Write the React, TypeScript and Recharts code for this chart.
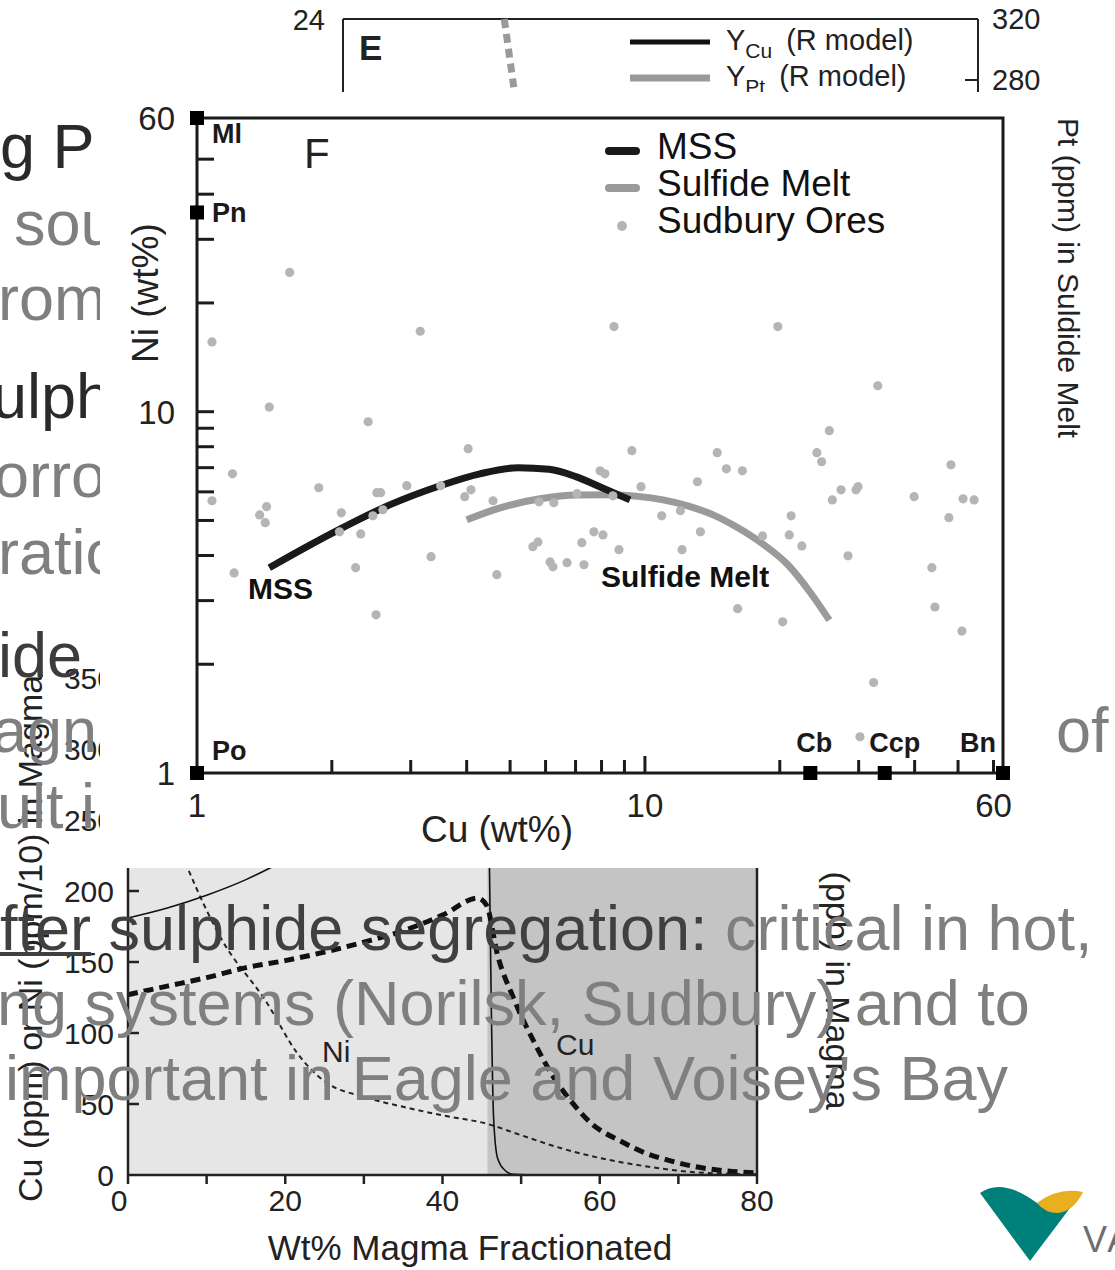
import React from 'react'
import {
  ScatterChart, Scatter, ComposedChart, LineChart, Line, XAxis, YAxis,
  ReferenceArea, ReferenceLine, Legend,
} from 'recharts'

const FONT = '"Liberation Sans", Arial, Helvetica, sans-serif'
const INK = '#1b1b1b'
const SLIDE_GRAY = '#7f7f7f'
const SLIDE_DARK = '#2a2a2a'

// ---------- panel F : Cu vs Ni (wt%), log-log ----------
const oreCu = [1.61, 3.15, 1.08, 1.45, 2.41, 4.03, 1.20, 1.87, 2.52, 2.57, 2.94, 3.50, 4.09, 3.96, 4.58, 5.80, 6.26, 7.05, 7.94, 8.14,
  1.08, 1.43, 1.38, 1.42, 2.10, 2.08, 2.32, 2.47, 2.60, 7.69, 8.06, 7.23, 5.62, 5.77, 6.14, 6.23, 6.70, 7.31, 4.67, 3.33,
  2.26, 1.21, 2.51, 8.53, 19.8, 33.1, 25.8, 9.35, 14.5, 15.2, 16.5, 24.2, 24.8, 48.2, 9.80, 13.1, 27.4, 26.2, 29.6, 29.9,
  39.9, 51.3, 54.3, 47.7, 8.48, 10.9, 12.0, 13.3, 21.2, 18.3, 21.0, 22.4, 28.4, 8.75, 12.1, 43.7, 44.4, 51.0, 16.1, 20.3,
  32.4, 30.2]
const oreNi = [24.3, 16.7, 15.6, 10.3, 9.38, 7.90, 6.73, 6.16, 5.97, 5.97, 6.24, 6.24, 6.08, 5.82, 5.67, 5.63, 5.60, 5.93, 6.86, 6.73,
  5.67, 5.46, 5.18, 4.93, 5.25, 4.65, 4.59, 5.15, 5.35, 4.65, 4.56, 4.34, 4.23, 4.36, 3.84, 3.72, 3.82, 3.77, 3.54, 3.97,
  3.70, 3.58, 2.74, 17.2, 17.2, 11.8, 8.86, 7.80, 7.70, 6.95, 6.86, 7.70, 7.27, 7.13, 6.20, 6.40, 6.08, 5.70, 6.08, 6.20,
  5.82, 5.74, 5.70, 5.09, 5.85, 5.15, 5.32, 4.65, 5.15, 4.53, 4.56, 4.25, 3.99, 4.15, 4.15, 3.70, 2.88, 2.47, 2.85, 2.62,
  1.78, 1.26]

const mssCu = [1.45, 1.74, 2.09, 2.70, 3.49, 4.28, 5.21, 6.11, 7.01, 8.02, 9.26]
const mssNi = [3.70, 4.20, 4.74, 5.53, 6.24, 6.73, 7.00, 6.93, 6.61, 6.16, 5.70]

const meltCu = [4.0, 4.75, 5.83, 7.05, 8.48, 9.65, 10.97, 12.47, 14.2, 16.13, 18.3, 20.85, 23.35, 25.8]
const meltNi = [5.02, 5.42, 5.74, 5.88, 5.89, 5.83, 5.70, 5.49, 5.18, 4.77, 4.31, 3.77, 3.17, 2.65]

const minerals = ['Ml', 'Pn', 'Po', 'Cb', 'Ccp', 'Bn']
const mineralCu = [1, 1, 1, 23.4, 34.3, 63]
const mineralNi = [65, 35.6, 1, 1, 1, 1]

const fTicksX = [1, 2, 3, 4, 5, 6, 7, 8, 9, 10, 20, 30, 40, 50, 60]
const fTicksY = [1, 2, 3, 4, 5, 6, 7, 8, 9, 10, 20, 30, 40, 50, 60]
const fLabelsX = ['1', '10', '60']
const fLabelsY = ['1', '10', '60']
const fLegendNames = ['MSS', 'Sulfide Melt', 'Sudbury Ores']

// ---------- panel E (top, mostly hidden) ----------
const eDashX = [25.4, 27.0, 28.6]
const eDashY = [320, 272, 224]
const eLegend = [['Y', 'Cu', '(R model)'], ['Y', 'Pt', '(R model)']]

// ---------- fractionation panel (bottom) ----------
const fracTicksX = [0, 10, 20, 30, 40, 50, 60, 70, 80]
const fracLabelsX = ['0', '20', '40', '60', '80']
const fracTicksL = [0, 50, 100, 150, 200, 250, 300, 350]
const fracTicksR = [0, 10, 20, 30, 40]
const sulfideSatAt = 45.7

const ptX = [0, 5, 10, 15, 18, 22, 26, 30, 35, 40, 44, 45.7, 45.9, 46.2, 46.5, 47, 48, 49, 52, 80]
const ptY = [181, 188, 197, 208, 216, 228, 241, 256, 276, 298, 315, 322, 250, 120, 40, 12, 3, 0.5, 0, 0]

const cuX = [0, 5, 10, 15, 20, 25, 30, 35, 40, 44.5, 45.6, 47, 49, 51.8, 54, 56.2, 59, 62.6, 66, 69, 72, 75, 80]
const cuY = [127, 133, 139, 146, 151, 157, 164, 172, 183, 195, 190, 155, 125, 92, 70, 53, 36, 24, 15, 10, 6, 3.5, 1.5]

const niX = [0, 3, 5.5, 7.6, 11.7, 17.7, 21.5, 25, 30, 35, 40, 45.7, 50, 55, 60, 66, 72, 80]
const niY = [320, 280, 245, 216, 168, 121, 86, 66, 55, 48, 42, 36, 28, 19, 12, 6, 2, 0.5]

// ---------- slide text fragments ----------
const slideLines: [string, number, number, string][] = [
  ['g P', 0, 168, SLIDE_DARK],
  ['sou', 14, 245, SLIDE_GRAY],
  ['rom', -2, 320, SLIDE_GRAY],
  ['ulphi', -8, 418, SLIDE_DARK],
  ['orro', -6, 497, SLIDE_GRAY],
  ['ratio', -2, 574, SLIDE_GRAY],
  ['ide', -2, 677, '#3c3c3c'],
  ['agn', -8, 752, SLIDE_GRAY],
  ['ult i', -3, 828, SLIDE_GRAY],
  ['of', 1056, 752, SLIDE_GRAY],
  ['ng systems (Norilsk, Sudbury) and to', -3, 1025, SLIDE_GRAY],
  ['important in Eagle and Voisey\'s Bay', 5, 1100, SLIDE_GRAY],
]

const pairs = (xs: number[], ys: number[]) => xs.map((x, i) => ({ x, y: ys[i] }))

const mineralLabel: Record<string, { dx: number; dy: number; anchor: string }> = {
  Ml: { dx: 15, dy: 15, anchor: 'start' },
  Pn: { dx: 15, dy: 0, anchor: 'start' },
  Po: { dx: 15, dy: -23, anchor: 'start' },
  Cb: { dx: 4, dy: -31, anchor: 'middle' },
  Ccp: { dx: 10, dy: -31, anchor: 'middle' },
  Bn: { dx: -25, dy: -31, anchor: 'middle' },
}

const NoDot = () => <g />

const OreDot = ({ cx, cy }: any) => <circle cx={cx} cy={cy} r={4.6} fill="#b5b5b5" />

const MineralMark = ({ cx, cy, payload }: any) => {
  const l = mineralLabel[payload.name]
  return (
    <g>
      <rect x={cx - 7} y={cy - 7} width={14} height={14} fill="#000" />
      <text x={cx + l.dx} y={cy + l.dy + 10} textAnchor={l.anchor as any} fontSize={27} fontWeight="bold"
        fill="#1a1a1a" fontFamily={FONT}>{payload.name}</text>
    </g>
  )
}

const FTickX = ({ x, y, payload }: any) => {
  const v = payload.value
  const lab = fLabelsX.includes(String(v)) ? String(v) : null
  return (
    <g>
      {v > 1 && <line x1={x} x2={x} y1={y} y2={y - (v === 10 ? 17 : 13)} stroke={INK} strokeWidth={3} />}
      {lab && <text x={x} y={y + 44} textAnchor="middle" fontSize={33} fill="#222" fontFamily={FONT}>{lab}</text>}
    </g>
  )
}

const FTickY = ({ x, y, payload }: any) => {
  const v = payload.value
  const lab = fLabelsY.includes(String(v)) ? String(v) : null
  // the top label sits on the frame corner in the original figure
  const ly = v === 60 ? y - 13 : y
  return (
    <g>
      {v > 1 && v < 60 && <line x1={x} x2={x + 17} y1={y} y2={y} stroke={INK} strokeWidth={3} />}
      {lab && <text x={x - 22} y={ly + 12} textAnchor="end" fontSize={33} fill="#222" fontFamily={FONT}>{lab}</text>}
    </g>
  )
}

const FLegend = () => (
  <div style={{ fontFamily: FONT, fontSize: 37, color: '#111', lineHeight: '37px' }}>
    {fLegendNames.map((name, i) => (
      <div key={name} style={{ display: 'flex', alignItems: 'center', height: 37, whiteSpace: 'nowrap' }}>
        <svg width={52} height={37} style={{ flex: 'none' }}>
          {i === 0 && <rect x={0} y={19} width={35} height={8} rx={4} fill="#1a1a1a" />}
          {i === 1 && <rect x={0} y={19} width={35} height={8} rx={4} fill="#9a9a9a" />}
          {i === 2 && <circle cx={17} cy={24} r={5} fill="#b5b5b5" />}
        </svg>
        <span>{name}</span>
      </div>
    ))}
  </div>
)

function PanelF() {
  const ores = pairs(oreCu, oreNi)
  const mss = pairs(mssCu, mssNi)
  const melt = pairs(meltCu, meltNi)
  const marks = minerals.map((name, i) => ({ name, x: mineralCu[i], y: mineralNi[i] }))
  return (
    <div style={{ position: 'absolute', left: 100, top: 92, width: 945, height: 776, background: '#fff' }}>
      <ScatterChart width={945} height={776} margin={{ top: 26, right: 42, bottom: 0, left: 0 }}>
        <XAxis type="number" dataKey="x" scale="log" domain={[1, 63]} ticks={fTicksX} interval={0}
          height={95} axisLine={false} tickLine={false} tickSize={0} tickMargin={0} tick={<FTickX />} />
        <YAxis type="number" dataKey="y" scale="log" domain={[1, 65]} ticks={fTicksY} interval={0}
          width={97} axisLine={false} tickLine={false} tickSize={0} tickMargin={0} tick={<FTickY />} />
        <ReferenceArea x1={1} x2={63} y1={1} y2={65} fill="none" stroke={INK} strokeWidth={3} />
        <Scatter name="Sulfide Melt" data={melt} shape={NoDot} line={{ stroke: '#9a9a9a', strokeWidth: 7 }}
          lineJointType="monotoneX" isAnimationActive={false} />
        <Scatter name="MSS" data={mss} shape={NoDot} line={{ stroke: '#1a1a1a', strokeWidth: 7 }}
          lineJointType="monotoneX" isAnimationActive={false} />
        <Scatter name="Sudbury Ores" data={ores} shape={OreDot} isAnimationActive={false} />
        <Scatter name="minerals" data={marks} shape={MineralMark} isAnimationActive={false} />
        <Legend layout="vertical" align="center" verticalAlign="middle" content={<FLegend />}
          wrapperStyle={{ top: 36, left: 505, width: 330 }} />
      </ScatterChart>
      <div style={{ position: 'absolute', left: 204, top: 38, fontSize: 42, color: '#222', fontFamily: FONT }}>F</div>
      <div style={{ position: 'absolute', left: 148, top: 480, fontSize: 30, fontWeight: 'bold', color: '#111', fontFamily: FONT }}>MSS</div>
      <div style={{ position: 'absolute', left: 501, top: 468, fontSize: 30, fontWeight: 'bold', color: '#111', whiteSpace: 'nowrap', fontFamily: FONT }}>Sulfide Melt</div>
      <div style={{ position: 'absolute', left: 297, top: 717, width: 200, textAlign: 'center', fontSize: 37, lineHeight: '42px', color: '#222', fontFamily: FONT }}>Cu (wt%)</div>
      <div style={{
        position: 'absolute', left: 27, top: 131, height: 140, width: 37, lineHeight: '37px', fontSize: 37, color: '#222',
        writingMode: 'vertical-rl', transform: 'rotate(180deg)', whiteSpace: 'nowrap', fontFamily: FONT,
      }}>Ni (wt%)</div>
    </div>
  )
}

const ETickL = ({ x, y, payload }: any) => (
  <text x={x - 18} y={y + 11} textAnchor="end" fontSize={29} fill="#222" fontFamily={FONT}>{payload.value}</text>
)

const ETickR = ({ x, y, payload }: any) => (
  <g>
    {payload.value !== 320 && <line x1={x - 13} x2={x} y1={y} y2={y} stroke="#222" strokeWidth={2} />}
    <text x={x + 14} y={y + 10} fontSize={29} fill="#222" fontFamily={FONT}>{payload.value}</text>
  </g>
)

function PanelE() {
  const dash = pairs(eDashX, eDashY)
  return (
    <div style={{ position: 'absolute', left: 0, top: 0, width: 1115, height: 92, overflow: 'hidden' }}>
      <LineChart width={1115} height={507} margin={{ top: 19, right: 0, bottom: 0, left: 0 }}>
        <XAxis type="number" dataKey="x" domain={[0, 100]} hide />
        <YAxis yAxisId="l" type="number" domain={[0, 24]} allowDataOverflow ticks={[24]} interval={0} width={343}
          tickSize={0} tickMargin={0} tickLine={false} axisLine={{ stroke: '#222', strokeWidth: 2 }} tick={<ETickL />} />
        <YAxis yAxisId="r" orientation="right" domain={[0, 320]} ticks={[280, 320]} width={137} tickSize={0} tickMargin={0}
          tickLine={false} axisLine={{ stroke: '#222', strokeWidth: 2 }} tick={<ETickR />} />
        <ReferenceLine yAxisId="r" y={320} stroke="#222" strokeWidth={2} />
        <Line yAxisId="r" data={dash} dataKey="y" stroke="#9a9a9a" strokeWidth={7} strokeDasharray="9 6" dot={false}
          isAnimationActive={false} />
      </LineChart>
      <div style={{ position: 'absolute', left: 359, top: 28, fontSize: 35, fontWeight: 'bold', color: '#222', fontFamily: FONT }}>E</div>
      <svg style={{ position: 'absolute', left: 628, top: 30 }} width={85} height={60}>
        <line x1={2} x2={82} y1={12} y2={12} stroke="#111" strokeWidth={5} />
        <line x1={2} x2={82} y1={48} y2={48} stroke="#9a9a9a" strokeWidth={7} />
      </svg>
      {eLegend.map(([y, sub, rest], i) => (
        <div key={sub} style={{ position: 'absolute', left: 726, top: 24 + i * 36, fontSize: 29, color: '#222', whiteSpace: 'nowrap', fontFamily: FONT }}>
          {y}<span style={{ fontSize: 21, position: 'relative', top: 8 }}>{sub}</span>
          <span style={{ marginLeft: 14 }}>{rest}</span>
        </div>
      ))}
    </div>
  )
}

const FracTickX = ({ x, y, payload }: any) => {
  const lab = fracLabelsX.includes(String(payload.value)) ? String(payload.value) : null
  return (
    <g>
      <line x1={x} x2={x} y1={y} y2={y + 9} stroke="#222" strokeWidth={2.5} />
      {lab && <text x={payload.value === 0 ? x - 9 : x} y={y + 36} textAnchor="middle" fontSize={30} fill="#222"
        fontFamily={FONT}>{lab}</text>}
    </g>
  )
}

const FracTickL = ({ x, y, payload }: any) => (
  <g>
    {payload.value > 0 && <line x1={x} x2={x + 11} y1={y} y2={y} stroke="#222" strokeWidth={2.5} />}
    <text x={x - 14} y={y + 11} textAnchor="end" fontSize={30} fill="#222" fontFamily={FONT}>{payload.value}</text>
  </g>
)

const FracTickR = ({ x, y, payload }: any) => (
  <g>
    {payload.value > 0 && <line x1={x - 11} x2={x} y1={y} y2={y} stroke="#222" strokeWidth={2.5} />}
    <text x={x + 12} y={y + 8} fontSize={30} fill="#222" fontFamily={FONT}>{payload.value}</text>
  </g>
)

function FractionationChart() {
  return (
    <div style={{ position: 'absolute', left: 0, top: 560, width: 900, height: 710 }}>
      <ComposedChart width={900} height={710} margin={{ top: 47, right: 0, bottom: 0, left: 0 }}>
        <XAxis type="number" dataKey="x" domain={[0, 80]} ticks={fracTicksX} interval={0} height={95}
          tickSize={0} tickMargin={0} tickLine={false} axisLine={{ stroke: '#222', strokeWidth: 2.5 }} tick={<FracTickX />} />
        <YAxis yAxisId="l" domain={[0, 400]} ticks={fracTicksL} interval={0} width={128} tickSize={0} tickMargin={0}
          tickLine={false} axisLine={{ stroke: '#222', strokeWidth: 2.5 }} tick={<FracTickL />} />
        <YAxis yAxisId="r" orientation="right" domain={[0, 80]} ticks={fracTicksR} interval={0} width={143} tickSize={0}
          tickMargin={0} tickLine={false} axisLine={{ stroke: '#222', strokeWidth: 2.5 }} tick={<FracTickR />} />
        <ReferenceArea yAxisId="l" x1={0} x2={sulfideSatAt} y1={0} y2={400} fill="#e6e6e6" fillOpacity={1} />
        <ReferenceArea yAxisId="l" x1={sulfideSatAt} x2={80} y1={0} y2={400} fill="#c4c4c4" fillOpacity={1} />
        <Line yAxisId="l" data={pairs(niX, niY)} dataKey="y" type="monotone" stroke="#222" strokeWidth={2}
          strokeDasharray="5 4" dot={false} isAnimationActive={false} />
        <Line yAxisId="l" data={pairs(cuX, cuY)} dataKey="y" type="monotone" stroke="#111" strokeWidth={5}
          strokeDasharray="10 6" dot={false} isAnimationActive={false} />
        <Line yAxisId="l" data={pairs(ptX, ptY)} dataKey="y" type="monotone" stroke="#111" strokeWidth={1.6}
          dot={false} isAnimationActive={false} />
      </ComposedChart>
      <div style={{ position: 'absolute', left: 322, top: 475, fontSize: 30, color: '#222', fontFamily: FONT }}>Ni</div>
      <div style={{ position: 'absolute', left: 556, top: 468, fontSize: 30, color: '#222', fontFamily: FONT }}>Cu</div>
      <div style={{ position: 'absolute', left: 220, top: 668, width: 500, textAlign: 'center', fontSize: 35, color: '#222', whiteSpace: 'nowrap', fontFamily: FONT }}>Wt% Magma Fractionated</div>
      <div style={{
        position: 'absolute', left: 13, top: 115, height: 527, width: 34, lineHeight: '34px', fontSize: 34, color: '#222',
        writingMode: 'vertical-rl', transform: 'rotate(180deg)', whiteSpace: 'nowrap', fontFamily: FONT,
      }}>Cu (ppm) or Ni (ppm/10) in Magma</div>
      <div style={{
        position: 'absolute', left: 821, top: 270, width: 34, lineHeight: '34px', fontSize: 34, color: '#222',
        writingMode: 'vertical-rl', whiteSpace: 'nowrap', fontFamily: FONT,
      }}>Pt (ppb) in Magma</div>
    </div>
  )
}

function SlideText() {
  const base: React.CSSProperties = { position: 'absolute', fontSize: 63, lineHeight: '63px', whiteSpace: 'nowrap', fontFamily: FONT }
  return (
    <>
      {slideLines.map(([t, x, b, c]) => (
        <div key={t} style={{ ...base, left: x, top: b - 53, color: c }}>{t}</div>
      ))}
      <div style={{ ...base, left: 0, top: 950 - 53, color: SLIDE_GRAY }}>
        <span style={{ color: '#404040', textDecoration: 'underline', textDecorationThickness: 4 }}>fter</span>
        <span style={{ color: '#404040' }}> sulphide segregation:</span> critical in hot,
      </div>
    </>
  )
}

const ValeLogo = () => (
  <div style={{ position: 'absolute', left: 970, top: 1175, width: 145, height: 95 }}>
    <svg width={145} height={95}>
      <path d="M10,18 Q32,2 67,28 L100,33 L60,86 Z" fill="#00807a" />
      <path d="M67,28 Q88,12 113,17 Q104,36 88,38 Q75,38 67,28 Z" fill="#e8b020" />
    </svg>
    <div style={{ position: 'absolute', left: 113, top: 44, fontSize: 36, color: '#6e6e6e', letterSpacing: 3, fontFamily: FONT }}>VA</div>
  </div>
)

export default function App() {
  return (
    <div style={{ position: 'absolute', left: 0, top: 0, width: 1115, height: 1270, overflow: 'hidden', background: '#fff', fontFamily: FONT }}>
      <FractionationChart />
      <SlideText />
      <PanelE />
      <PanelF />
      <div style={{
        position: 'absolute', left: 1053, top: 118, width: 30, lineHeight: '30px', fontSize: 30, color: '#222',
        writingMode: 'vertical-rl', whiteSpace: 'nowrap', fontFamily: FONT,
      }}>Pt (ppm) in Suldide Melt</div>
      <ValeLogo />
    </div>
  )
}
